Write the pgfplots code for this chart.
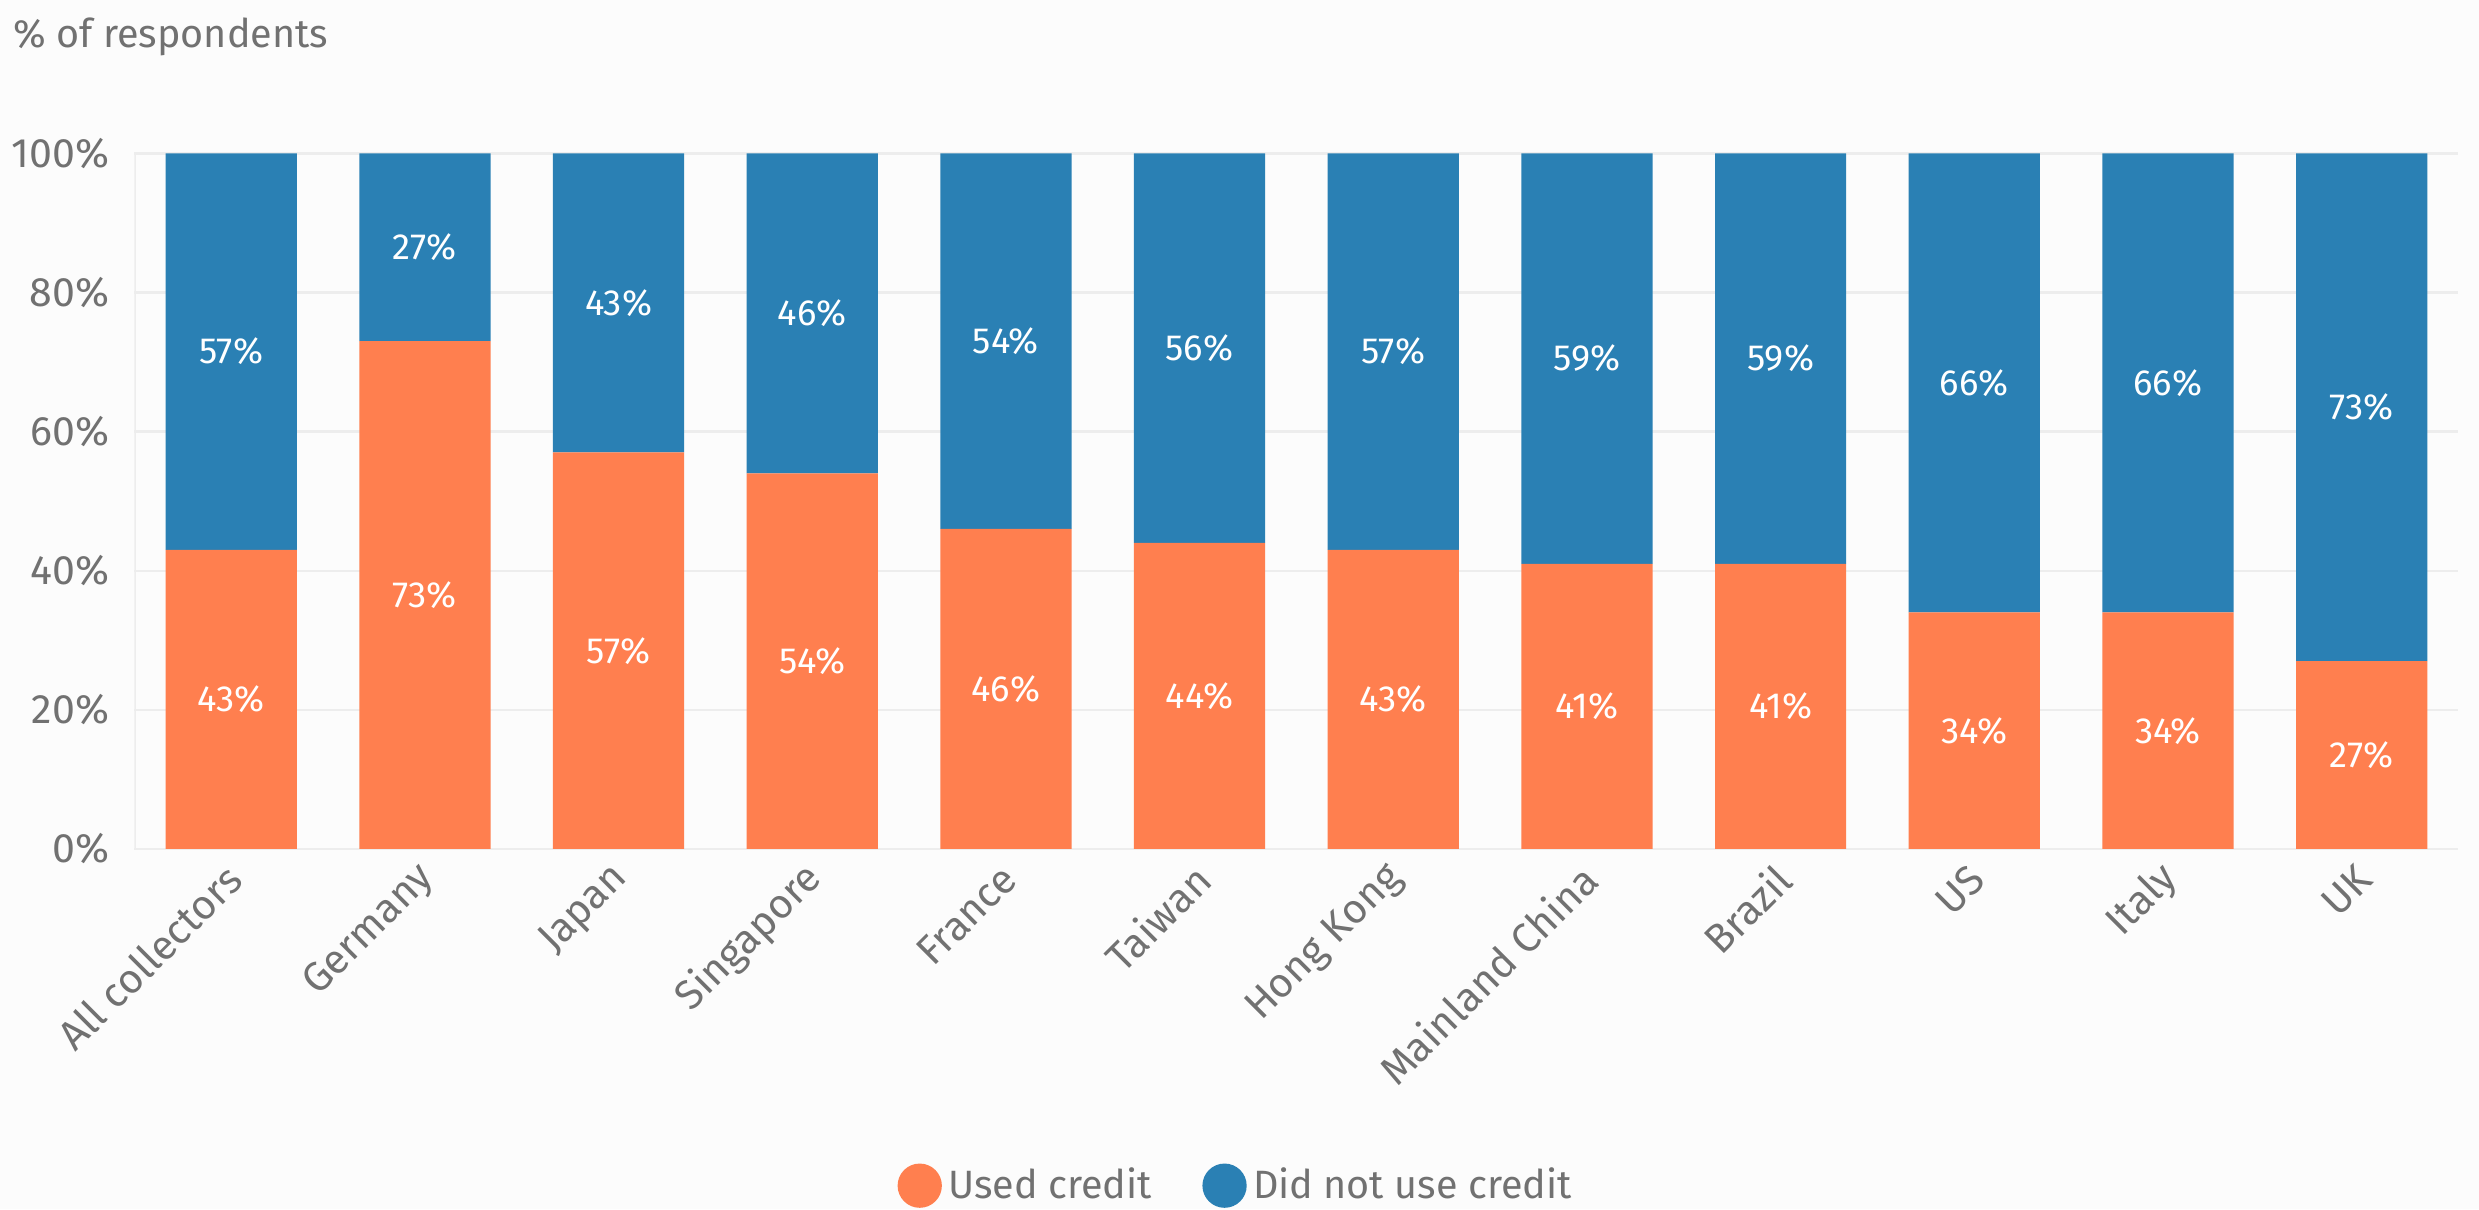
\documentclass[border=0pt]{standalone}
\usepackage{fontspec}
\setmainfont{Fira Sans}
\usepackage{pgfplots}
\pgfplotsset{compat=1.18}
\usepackage{pgfplotstable}
\definecolor{usedc}{HTML}{FF7F4F}
\definecolor{notc}{HTML}{2A80B4}
\definecolor{txtgray}{HTML}{717171}
\definecolor{gridc}{HTML}{EDEDED}
\definecolor{bgc}{HTML}{FCFCFC}

\pgfplotstableread{
x u d
0 43 57
1 73 27
2 57 43
3 54 46
4 46 54
5 44 56
6 43 57
7 41 59
8 41 59
9 34 66
10 34 66
11 27 73
}\datatable

\begin{document}
\begin{tikzpicture}
\fill[bgc] (-42.5pt,-114pt) rectangle (741.5pt,268.5pt);
\begin{axis}[
  at={(0pt,0pt)}, anchor=south west,
  scale only axis, width=735pt, height=220pt,
  ybar stacked, bar width=41.5pt,
  xmin=-0.5, xmax=11.5, ymin=0, ymax=100,
  enlargelimits=false,
  axis line style={draw=none},
  ymajorgrids, grid style={gridc, line width=0.75pt},
  major tick length=0pt,
  xtick={0,...,11},
  xticklabels={All collectors, Germany, Japan, Singapore, France, Taiwan, Hong Kong, Mainland China, Brazil, US, Italy, UK},
  ytick={0,20,...,100},
  yticklabel={\pgfmathprintnumber{\tick}\%},
  /pgf/number format/assume math mode=true,
  tick label style={font=\fontsize{13}{15}\selectfont, text=txtgray},
  xticklabel style={rotate=45, anchor=east, yshift=-6pt, xshift=-1pt},
  yticklabel style={anchor=east, xshift=-4.5pt},
  point meta=explicit symbolic,
  nodes near coords={\pgfplotspointmeta\%},
  every node near coord/.append style={anchor=center, text=white, font=\fontsize{11.5}{13}\selectfont},
  legend columns=2,
  legend style={at={(0.4748,-0.484)}, anchor=center, draw=none, fill=none, font=\fontsize{12.5}{15}\selectfont, text=txtgray, /tikz/every even column/.append style={column sep=14pt}},
  legend image code/.code={\fill[#1] (7pt,0pt) circle (7pt);},
]
\draw[gridc, line width=0.75pt] (rel axis cs:0,0) -- (rel axis cs:0,1);
\addplot[fill=usedc, draw=none] table[x=x, y=u, meta=u] {\datatable};
\addplot[fill=notc, draw=none] table[x=x, y=d, meta=d] {\datatable};
\legend{Used credit, Did not use credit}
\end{axis}
\node[anchor=west, inner sep=0pt, text=txtgray, font=\fontsize{12.5}{15}\selectfont] at (-38.5pt,256.75pt) {\% of respondents};
\pgfresetboundingbox
\useasboundingbox (-42.5pt,-114pt) rectangle (741.5pt,268.5pt);
\end{tikzpicture}
\end{document}
